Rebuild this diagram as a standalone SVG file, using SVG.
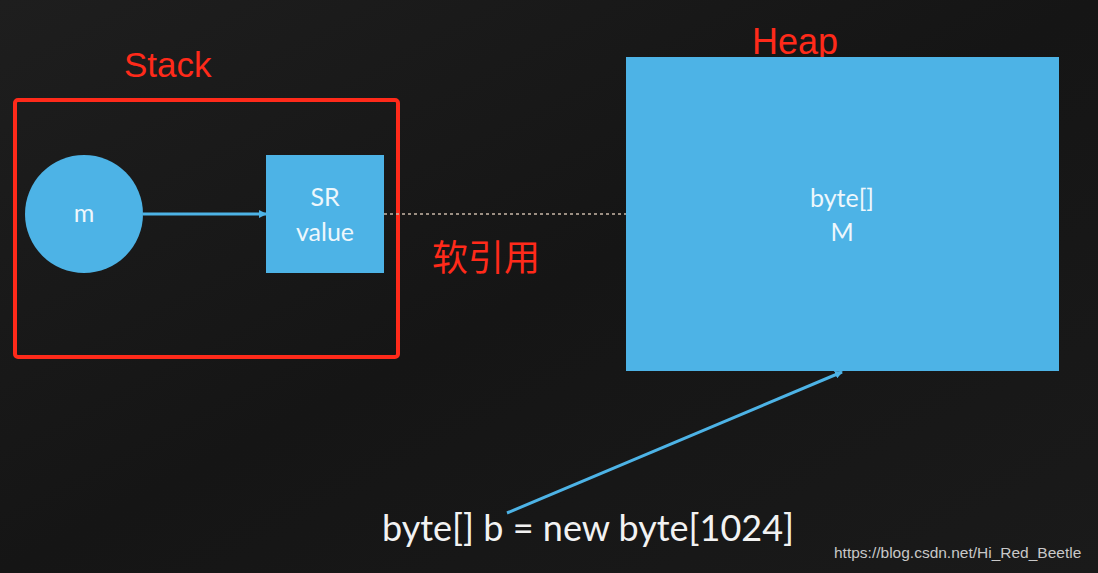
<svg xmlns="http://www.w3.org/2000/svg" width="1098" height="573" viewBox="0 0 1098 573">
<defs>
<style>
.blue{fill:#4db3e6}
.lbl{font-family:Lato,"Open Sans",sans-serif;fill:#eef7fc;text-anchor:middle}
.red{font-family:"Liberation Sans",Arial,"Noto Sans CJK SC",sans-serif;fill:#ff2a1a}
.conn{stroke:#4db3e6;stroke-width:3;fill:none}
</style>
<marker id="ah" markerWidth="8" markerHeight="8" refX="7" refY="4" orient="auto" markerUnits="userSpaceOnUse">
<path d="M0,0 L8,4 L0,8 Z" fill="#4db3e6"/>
</marker>
<linearGradient id="bg" x1="0" y1="0" x2="1" y2="1">
<stop offset="0" stop-color="#1e1e1e"/>
<stop offset="0.5" stop-color="#151515"/>
<stop offset="1" stop-color="#1a1a1a"/>
</linearGradient>
</defs>
<rect width="1098" height="573" fill="url(#bg)"/>
<g id="stack-frame">
<rect x="15" y="100" width="383" height="257" rx="3" fill="none" stroke="#ff2a1a" stroke-width="4"/>
<text class="red" x="124" y="77" font-size="35">Stack</text>
</g>
<g id="heap-label"><text class="red" x="752" y="54" font-size="36">Heap</text></g>
<g id="node-m">
<circle class="blue" cx="84" cy="214" r="59"/>
<text class="lbl" x="84" y="222" font-size="25">m</text>
</g>
<g id="node-sr">
<rect class="blue" x="266" y="155" width="118" height="118"/>
<text class="lbl" x="325" y="206" font-size="25">SR</text>
<text class="lbl" x="325" y="241" font-size="25">value</text>
</g>
<g id="node-heap">
<rect class="blue" x="626" y="57" width="433" height="314"/>
<text class="lbl" x="842" y="207" font-size="25">byte[]</text>
<text class="lbl" x="842" y="241" font-size="25">M</text>
</g>
<g id="connectors">
<line class="conn" x1="143" y1="214" x2="266" y2="214" marker-end="url(#ah)"/>
<line x1="384" y1="214" x2="626" y2="214" stroke="#c9b8a8" stroke-width="1.5" stroke-dasharray="3,3"/>
<line class="conn" x1="507" y1="513" x2="842" y2="372" marker-end="url(#ah)"/>
</g>
<g id="soft-ref-label"><text class="red" x="432" y="271" font-size="36">软引用</text></g>
<g id="code-label"><text x="382" y="541" font-family="Lato,'Open Sans',sans-serif" font-size="36" fill="#f2f2f2">byte[] b = new byte[1024]</text></g>
<text x="834" y="558" font-family="'Liberation Sans',Arial,sans-serif" font-size="15.5" fill="#c8c8c8">https://blog.csdn.net/Hi_Red_Beetle</text>
</svg>
